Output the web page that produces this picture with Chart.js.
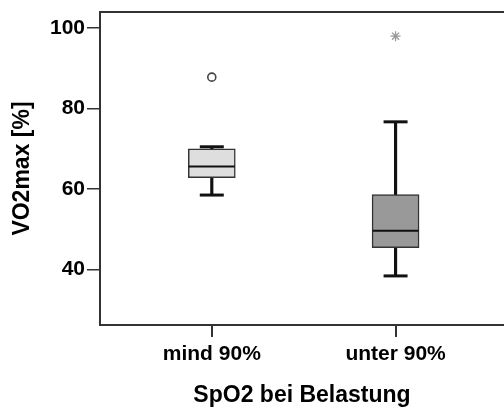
<!DOCTYPE html>
<html>
<head>
<meta charset="utf-8">
<script src="https://cdn.jsdelivr.net/npm/chart.js@4.4.1/dist/chart.umd.min.js"></script>
<style>
  html, body { margin: 0; padding: 0; background: #fff; overflow: hidden; }
  #wrap { width: 504px; height: 407px; position: relative; }
</style>
</head>
<body>
<div id="wrap"><canvas id="c"></canvas></div>
<script>
// Groups on the x axis
const groups = ['mind 90%', 'unter 90%'];
// Five-number summaries of VO2max [%] per group
const whiskerLow  = [58.5, 38.4];
const q1          = [62.8, 45.4];
const median      = [65.6, 49.6];
const q3          = [70.0, 58.6];
const whiskerHigh = [70.5, 76.7];
// Outliers (circle) and extreme values (star)
const outliers = [87.8, null];
const extremes = [null, 98.0];
// Tick values on the y axis
const yTicks = [40, 60, 80, 100];

const FONT = "'Liberation Sans', Arial, sans-serif";
const xPos = groups.map((g, i) => i + 1);

const pts = (vals) => vals
  .map((v, i) => (v === null ? null : { x: xPos[i], y: v }))
  .filter(p => p !== null);

// Top edge of the plot frame
const frameTop = {
  id: 'frameTop',
  afterDraw(chart) {
    const { ctx, chartArea } = chart;
    ctx.save();
    ctx.strokeStyle = '#333';
    ctx.lineWidth = 2;
    ctx.beginPath();
    ctx.moveTo(chartArea.left - 1, chartArea.top);
    ctx.lineTo(chartArea.right, chartArea.top);
    ctx.stroke();
    ctx.restore();
  }
};

const noPad = (s) => {
  s.paddingTop = 0; s.paddingBottom = 0; s.paddingLeft = 0; s.paddingRight = 0;
};

new Chart(document.getElementById('c'), {
  type: 'bar',
  data: {
    datasets: [
      {
        // whisker stems
        type: 'bar',
        data: xPos.map((x, i) => ({ x, y: [whiskerLow[i], whiskerHigh[i]] })),
        backgroundColor: '#111',
        borderWidth: 0,
        barThickness: 2.5,
        grouped: false,
        order: 5
      },
      {
        // boxes (Q1 to Q3)
        type: 'bar',
        data: xPos.map((x, i) => ({ x, y: [q1[i], q3[i]] })),
        backgroundColor: ['#dedede', '#999999'],
        borderColor: '#333',
        borderWidth: 1.5,
        borderSkipped: false,
        barThickness: 47,
        grouped: false,
        order: 4
      },
      {
        // medians
        type: 'scatter',
        data: pts(median),
        pointStyle: 'line',
        pointRadius: 23,
        pointBorderWidth: 2,
        pointBorderColor: '#111',
        order: 3
      },
      {
        // whisker caps
        type: 'scatter',
        data: pts(whiskerLow).concat(pts(whiskerHigh)),
        pointStyle: 'line',
        pointRadius: 12,
        pointBorderWidth: 3,
        pointBorderColor: '#111',
        order: 2
      },
      {
        type: 'scatter',
        data: pts(outliers),
        pointStyle: 'circle',
        pointRadius: 4,
        pointBorderWidth: 1.6,
        pointBorderColor: '#444',
        pointBackgroundColor: '#fff',
        order: 1
      },
      {
        type: 'scatter',
        data: pts(extremes),
        pointStyle: 'star',
        pointRadius: 5,
        pointBorderWidth: 1.3,
        pointBorderColor: '#999',
        order: 0
      }
    ]
  },
  options: {
    responsive: true,
    maintainAspectRatio: false,
    animation: false,
    events: [],
    layout: { autoPadding: false, padding: { top: 12, right: 0, bottom: 0, left: 0 } },
    plugins: { legend: { display: false }, tooltip: { enabled: false } },
    scales: {
      x: {
        type: 'linear',
        offset: false,
        min: 0.3917,
        max: 2.590,
        afterBuildTicks: (s) => { s.ticks = xPos.map(v => ({ value: v })); },
        afterFit: (s) => { s.height = 82; noPad(s); },
        ticks: {
          callback: (v) => groups[v - 1],
          color: '#000',
          font: { family: FONT, size: 21, weight: 'bold' },
          padding: 5,
          maxRotation: 0
        },
        grid: { offset: false, drawOnChartArea: false, tickLength: 12, color: '#333', lineWidth: 2 },
        border: { display: true, color: '#333', width: 2 },
        title: {
          display: true,
          text: 'SpO2 bei Belastung',
          color: '#000',
          font: { family: FONT, size: 23, weight: 'bold', lineHeight: 1 },
          padding: { top: 0, bottom: 0 }
        }
      },
      y: {
        type: 'linear',
        min: 26.2,
        max: 104,
        afterBuildTicks: (s) => { s.ticks = yTicks.map(v => ({ value: v })); },
        afterFit: (s) => { s.width = 100; noPad(s); },
        ticks: {
          color: '#000',
          font: { family: FONT, size: 21, weight: 'bold' },
          padding: 2
        },
        grid: { drawOnChartArea: false, tickLength: 13, color: '#333', lineWidth: 1.5 },
        border: { display: true, color: '#333', width: 2 },
        title: {
          display: true,
          text: 'VO2max [%]',
          color: '#000',
          font: { family: FONT, size: 23, weight: 'bold', lineHeight: 1 },
          padding: { top: 11, bottom: 0 }
        }
      }
    }
  },
  plugins: [frameTop]
});
</script>
</body>
</html>
